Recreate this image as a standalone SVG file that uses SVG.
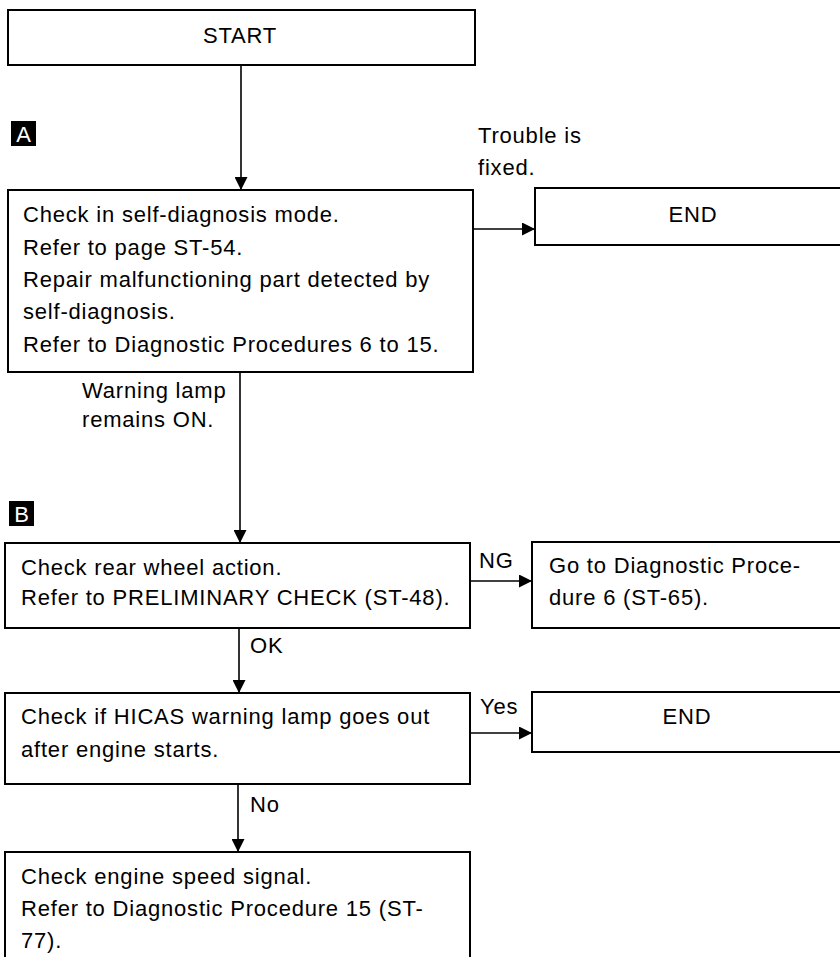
<svg xmlns="http://www.w3.org/2000/svg" width="840" height="957" viewBox="0 0 840 957">
<style>
  .box { fill: #fff; stroke: #000; stroke-width: 2; }
  .t { font-family: "Liberation Sans", Arial, sans-serif; font-size: 22px; letter-spacing: 0.8px; fill: #000; }
  .c { text-anchor: middle; }
  .tag { fill: #000; }
  .tagt { font-family: "Liberation Sans", Arial, sans-serif; font-size: 22px; fill: #fff; text-anchor: middle; }
  .conn { stroke: #000; stroke-width: 1.6; fill: none; marker-end: url(#arr); }
</style>
<defs>
  <marker id="arr" markerUnits="userSpaceOnUse" markerWidth="14" markerHeight="13" refX="13" refY="6.5" orient="auto">
    <path d="M0,0 L13,6.5 L0,13 z" fill="#000"/>
  </marker>
</defs>
<rect width="840" height="957" fill="#fff"/>

<g id="connectors">
  <line class="conn" x1="241" y1="65" x2="241" y2="190"/>
  <line class="conn" x1="473" y1="229" x2="535" y2="229"/>
  <line class="conn" x1="240" y1="372" x2="240" y2="543"/>
  <line class="conn" x1="470" y1="581" x2="532" y2="581"/>
  <line class="conn" x1="239" y1="628" x2="239" y2="693"/>
  <line class="conn" x1="470" y1="733" x2="532" y2="733"/>
  <line class="conn" x1="238" y1="784" x2="238" y2="852"/>
  <text class="t" x="478" y="143">Trouble is</text>
  <text class="t" x="478" y="175">fixed.</text>
  <text class="t" x="82" y="398">Warning lamp</text>
  <text class="t" x="82" y="427">remains ON.</text>
  <text class="t" x="479" y="568">NG</text>
  <text class="t" x="250" y="653">OK</text>
  <text class="t" x="480" y="714">Yes</text>
  <text class="t" x="250" y="812">No</text>
</g>

<g id="start">
  <rect class="box" x="8" y="10" width="467" height="55"/>
  <text class="t c" x="240" y="43">START</text>
</g>

<g id="tagA">
  <rect class="tag" x="11" y="121" width="25" height="25"/>
  <text class="tagt" x="23.5" y="142">A</text>
</g>

<g id="selfdiag">
  <rect class="box" x="8" y="190" width="465" height="182"/>
  <text class="t" x="23" y="222">Check in self-diagnosis mode.</text>
  <text class="t" x="23" y="255">Refer to page ST-54.</text>
  <text class="t" x="23" y="287">Repair malfunctioning part detected by</text>
  <text class="t" x="23" y="319">self-diagnosis.</text>
  <text class="t" x="23" y="352">Refer to Diagnostic Procedures 6 to 15.</text>
</g>

<g id="end1">
  <rect class="box" x="535" y="188" width="320" height="57"/>
  <text class="t c" x="693" y="222">END</text>
</g>

<g id="tagB">
  <rect class="tag" x="9" y="501" width="25" height="25"/>
  <text class="tagt" x="21.5" y="522">B</text>
</g>

<g id="rearwheel">
  <rect class="box" x="5" y="543" width="465" height="85"/>
  <text class="t" x="21" y="575">Check rear wheel action.</text>
  <text class="t" x="21" y="605">Refer to PRELIMINARY CHECK (ST-48).</text>
</g>

<g id="proc6">
  <rect class="box" x="532" y="542" width="320" height="86"/>
  <text class="t" x="549" y="573">Go to Diagnostic Proce-</text>
  <text class="t" x="549" y="605">dure 6 (ST-65).</text>
</g>

<g id="hicas">
  <rect class="box" x="5" y="693" width="465" height="91"/>
  <text class="t" x="21" y="724">Check if HICAS warning lamp goes out</text>
  <text class="t" x="21" y="757">after engine starts.</text>
</g>

<g id="end2">
  <rect class="box" x="532" y="692" width="320" height="60"/>
  <text class="t c" x="687" y="724">END</text>
</g>

<g id="enginespeed">
  <rect class="box" x="5" y="852" width="465" height="130"/>
  <text class="t" x="21" y="884">Check engine speed signal.</text>
  <text class="t" x="21" y="916">Refer to Diagnostic Procedure 15 (ST-</text>
  <text class="t" x="21" y="948">77).</text>
</g>
</svg>
